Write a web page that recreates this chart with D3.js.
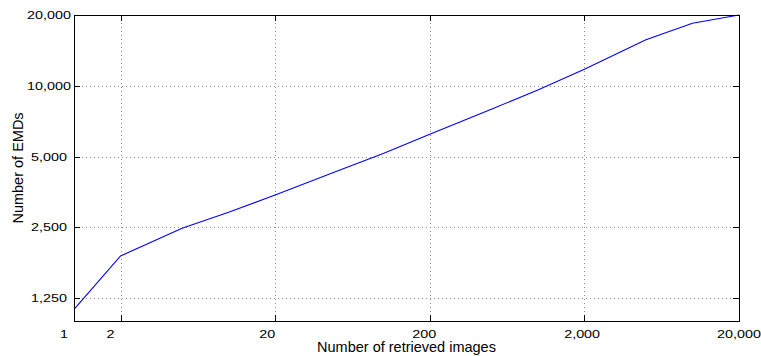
<!DOCTYPE html>
<html>
<head>
<meta charset="utf-8">
<script src="https://cdn.jsdelivr.net/npm/d3@7"></script>
<style>
    body { margin: 0; background: #fff; }
    text { font-family: "Liberation Sans", Arial, sans-serif; fill: #000; }
</style>
</head>
<body>
<div id="emdPlot"></div>
<script>
//Number of retrieved images (x values)
const retrievedImages = [1, 2, 5, 10, 20, 50, 100, 200, 500, 1000, 2000, 5000, 10000, 20000];

//Number of EMDs computed for each (y values)
const emdCounts = [1120, 1890, 2480, 2900, 3430, 4330, 5150, 6220, 7950, 9600, 11750, 15700, 18450, 20000];

//Tick values on both axes
const xTickValues = [1, 2, 20, 200, 2000, 20000];
const yTickValues = [1250, 2500, 5000, 10000, 20000];

const xLabel = "Number of retrieved images";
const yLabel = "Number of EMDs";

class EmdPlot
{
    constructor()
    {
        //Selecting div and appending svg
        this.plotDiv = d3.select("#emdPlot");
        this.svg = this.plotDiv.append("svg")
            .attr("width", 761)
            .attr("height", 356);

        //Plot box in page pixels
        this.dimensions = {top: 15, bottom: 321, left: 74, right: 739};
    }

    plot()
    {
        let dim = this.dimensions;

        //Log scales for both axes
        let xScale = d3.scaleLog()
            .domain([1, 20000])
            .range([dim.left, dim.right]);

        let yScale = d3.scaleLog()
            .domain([1000, 20000])
            .range([dim.bottom, dim.top]);

        let fmt = d3.format(",");
        let g = this.svg.append("g");

        //Dotted grid lines
        g.append("g").selectAll("line")
            .data(xTickValues.slice(1, -1))
            .join("line")
            .attr("x1", d => Math.round(xScale(d)) + 0.5)
            .attr("x2", d => Math.round(xScale(d)) + 0.5)
            .attr("y1", dim.top)
            .attr("y2", dim.bottom)
            .attr("stroke", "#8a8a8a")
            .attr("stroke-dasharray", "1,3");

        g.append("g").selectAll("line")
            .data(yTickValues.slice(0, -1))
            .join("line")
            .attr("x1", dim.left)
            .attr("x2", dim.right)
            .attr("y1", d => Math.round(yScale(d)) + 0.5)
            .attr("y2", d => Math.round(yScale(d)) + 0.5)
            .attr("stroke", "#8a8a8a")
            .attr("stroke-dasharray", "1,3");

        //The data line
        let line = d3.line()
            .x((d, i) => xScale(retrievedImages[i]))
            .y(d => yScale(d));

        g.append("path")
            .datum(emdCounts)
            .attr("fill", "none")
            .attr("stroke", "#0000ff")
            .attr("stroke-width", 1.1)
            .attr("d", line);

        //Inward ticks on all four sides
        let tickLen = 6;
        let ticks = g.append("g").attr("stroke", "#000");
        xTickValues.forEach((v) => {
            let x = Math.round(xScale(v)) + 0.5;
            ticks.append("line").attr("x1", x).attr("x2", x).attr("y1", dim.bottom).attr("y2", dim.bottom - tickLen);
            ticks.append("line").attr("x1", x).attr("x2", x).attr("y1", dim.top).attr("y2", dim.top + tickLen);
        });
        yTickValues.forEach((v) => {
            let y = Math.round(yScale(v)) + 0.5;
            ticks.append("line").attr("x1", dim.left).attr("x2", dim.left + tickLen).attr("y1", y).attr("y2", y);
            ticks.append("line").attr("x1", dim.right).attr("x2", dim.right - tickLen).attr("y1", y).attr("y2", y);
        });

        //Box around the plot
        g.append("rect")
            .attr("x", dim.left + 0.5)
            .attr("y", dim.top + 0.5)
            .attr("width", dim.right - dim.left)
            .attr("height", dim.bottom - dim.top)
            .attr("fill", "none")
            .attr("stroke", "#000");

        //Tick labels, drawn a bit wide like the original
        let stretch = 1.34;
        let tickFont = 10.7;

        let xLabels = g.append("g").selectAll("text")
            .data(xTickValues)
            .join("text")
            .attr("text-anchor", "middle")
            .style("font-size", tickFont + "px")
            .text(d => fmt(d));

        xLabels.attr("transform", function (d) {
            let w = this.getComputedTextLength() * stretch;
            let cx = xScale(d) + 0.28 * (w - 44);
            return "translate(" + cx + "," + 337.5 + ") scale(" + stretch + ",1)";
        });

        g.append("g").selectAll("text")
            .data(yTickValues)
            .join("text")
            .attr("text-anchor", "middle")
            .style("font-size", tickFont + "px")
            .attr("transform", d => "translate(49," + (yScale(d) + 4) + ") scale(" + stretch + ",1)")
            .text(d => fmt(d));

        //Axis titles
        g.append("text")
            .attr("text-anchor", "middle")
            .style("font-size", "14.5px")
            .attr("x", (dim.left + dim.right) / 2)
            .attr("y", 352)
            .text(xLabel);

        g.append("text")
            .attr("text-anchor", "middle")
            .style("font-size", "14.5px")
            .attr("transform", "translate(23," + (dim.top + dim.bottom) / 2 + ") rotate(-90)")
            .text(yLabel);
    }
}

let emdPlot = new EmdPlot();
emdPlot.plot();
</script>
</body>
</html>
